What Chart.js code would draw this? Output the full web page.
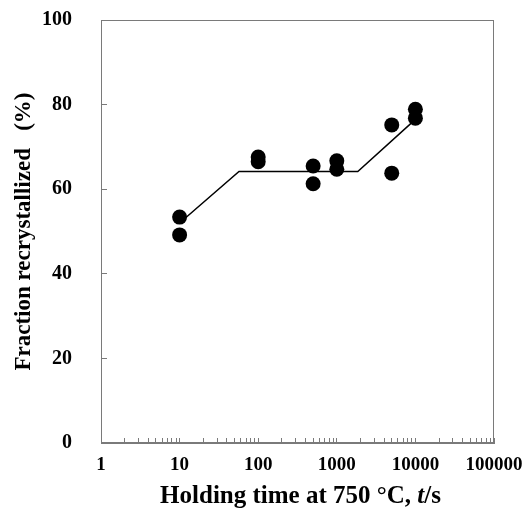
<!DOCTYPE html>
<html>
<head>
<meta charset="utf-8">
<script src="https://cdn.jsdelivr.net/npm/chart.js@4"></script>
<style>
  html, body { margin: 0; padding: 0; background: #fff; }
</style>
</head>
<body>
<canvas id="chart" width="525" height="510"></canvas>
<script>
// measured points: holding time (s) vs fraction recrystallized (%)
const times = [10, 10, 100, 100, 500, 500, 1000, 1000, 5000, 5000, 10000, 10000];
const fractions = [53.4, 49.2, 67.6, 66.5, 65.5, 61.3, 66.7, 64.7, 75.2, 63.8, 78.9, 76.8];

// trend line drawn through the data
const fitTimes = [10, 57, 1850, 10000];
const fitFractions = [52, 64.2, 64.2, 76.5];

const yTicks = [0, 20, 40, 60, 80, 100];
const xDecades = [1, 10, 100, 1000, 10000, 100000];

const serif = '"Liberation Serif", "Times New Roman", serif';
const axisGray = '#7a7a7a';

// minor ticks 1..9 in every decade, labels only on the decades
const xTicks = [];
xDecades.forEach((d, i) => {
  if (i === xDecades.length - 1) { xTicks.push(d); return; }
  for (let m = 1; m < 10; m++) xTicks.push(m * d);
});

const framePlugin = {
  id: 'frame',
  beforeDatasetsDraw(chart) {
    const { ctx, chartArea: a } = chart;
    ctx.save();
    ctx.strokeStyle = axisGray;
    ctx.lineWidth = 1;
    ctx.strokeRect(Math.round(a.left) + 0.5, Math.round(a.top) + 0.5,
      Math.round(a.right - a.left) - 1, Math.round(a.bottom - a.top) - 1);
    ctx.restore();
  }
};

// x title has an italic "t", so draw it piece by piece
const xTitlePlugin = {
  id: 'xTitle',
  afterDraw(chart) {
    const { ctx, chartArea: a } = chart;
    const parts = [
      ['Holding time at 750 °C, ', 'bold 25px ' + serif],
      ['t', 'italic bold 25px ' + serif],
      ['/s', 'bold 25px ' + serif]
    ];
    ctx.save();
    ctx.fillStyle = '#000';
    ctx.textBaseline = 'alphabetic';
    ctx.textAlign = 'left';
    let total = 0;
    parts.forEach(p => { ctx.font = p[1]; total += ctx.measureText(p[0]).width; });
    let x = (a.left + a.right) / 2 + 3 - total / 2;
    parts.forEach(p => {
      ctx.font = p[1];
      ctx.fillText(p[0], x, 503);
      x += ctx.measureText(p[0]).width;
    });
    ctx.restore();
  }
};

new Chart(document.getElementById('chart'), {
  type: 'scatter',
  data: {
    datasets: [
      {
        label: 'measured',
        data: times.map((t, i) => ({ x: t, y: fractions[i] })),
        backgroundColor: '#000',
        borderWidth: 0,
        pointRadius: 7.5
      },
      {
        label: 'trend',
        data: fitTimes.map((t, i) => ({ x: t, y: fitFractions[i] })),
        showLine: true,
        borderColor: '#000',
        borderWidth: 1.5,
        pointRadius: 0
      }
    ]
  },
  options: {
    responsive: false,
    animation: false,
    devicePixelRatio: 1,
    layout: { padding: { top: 20, right: 31, left: 0, bottom: 0 } },
    plugins: { legend: { display: false }, tooltip: { enabled: false } },
    scales: {
      x: {
        type: 'logarithmic',
        min: 1,
        max: 100000,
        afterBuildTicks: s => { s.ticks = xTicks.map(v => ({ value: v })); },
        afterFit: s => {
          s.height = 67;
          s.paddingLeft = 0;
          s.paddingRight = 0;
        },
        grid: { drawOnChartArea: false, tickLength: -5, color: axisGray },
        border: { display: true, color: axisGray },
        ticks: {
          autoSkip: false,
          maxRotation: 0,
          padding: 16,
          color: '#000',
          font: { family: serif, size: 19, weight: 'bold' },
          callback: v => xDecades.includes(v) ? String(v) : ''
        }
      },
      y: {
        min: 0,
        max: 100,
        afterBuildTicks: s => { s.ticks = yTicks.map(v => ({ value: v })); },
        afterFit: s => {
          s.width = 101;
          s.paddingTop = 0;
          s.paddingBottom = 0;
        },
        grid: { drawOnChartArea: false, tickLength: -6, color: axisGray },
        border: { display: true, color: axisGray },
        ticks: {
          padding: 35,
          color: '#000',
          font: { family: serif, size: 20, weight: 'bold' }
        },
        title: {
          display: true,
          text: 'Fraction recrystallized   (%)',
          color: '#000',
          padding: { top: 10, bottom: 0 },
          font: { family: serif, size: 23, weight: 'bold' }
        }
      }
    }
  },
  plugins: [framePlugin, xTitlePlugin]
});
</script>
</body>
</html>
